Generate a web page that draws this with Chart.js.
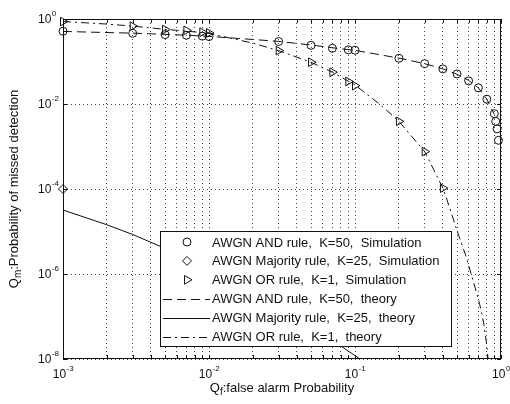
<!DOCTYPE html>
<html><head><meta charset="utf-8">
<script src="https://cdn.jsdelivr.net/npm/chart.js@4/dist/chart.umd.min.js"></script>
<style>html,body{margin:0;padding:0;background:#fff;}#wrap{width:510px;height:404px;position:relative;}</style>
</head><body><div id="wrap"><canvas id="c" width="510" height="404"></canvas></div>
<script>
// ---- data ----
const andSimX = [0.001,0.003,0.005,0.007,0.009,0.01,0.03,0.05,0.07,0.09,0.1,0.2,0.3,0.4,0.5,0.6,0.7,0.8,0.9,0.92,0.94,0.96];
const andSimY = [0.515,0.46,0.43,0.415,0.395,0.386,0.295,0.24,0.205,0.188,0.184,0.119,0.089,0.067,0.051,0.035,0.024,0.013,0.0059,0.0039,0.0026,0.0014];
const majSimX = [0.001];
const majSimY = [1e-4];
const orSimX = [0.001,0.003,0.005,0.007,0.009,0.01,0.03,0.05,0.07,0.09,0.1,0.2,0.3,0.4];
const orSimY = [0.87,0.68,0.565,0.54,0.49,0.47,0.18,0.096,0.056,0.034,0.027,0.0039,0.00076,0.000105];
const andThX = [0.001,0.002,0.003,0.005,0.007,0.01,0.02,0.03,0.05,0.07,0.1,0.2,0.3,0.4,0.5,0.6,0.7,0.8,0.9];
const andThY = [0.51,0.48,0.465,0.435,0.415,0.39,0.33,0.297,0.245,0.21,0.183,0.12,0.089,0.067,0.05,0.036,0.024,0.013,0.0057];
const majThX = [0.001,0.002,0.003,0.005,0.01,0.02,0.03,0.05,0.07,0.1,0.12];
const majThY = [3.2e-5,1.44e-5,8.5e-6,4.0e-6,1.3e-6,3.7e-7,1.7e-7,5.8e-8,2.75e-8,1.2e-8,7.8e-9];
const orThX = [0.001,0.002,0.003,0.005,0.007,0.01,0.02,0.03,0.05,0.07,0.1,0.15,0.2,0.3,0.4,0.443,0.495,0.572,0.649,0.713,0.759,0.796,0.815,0.83];
const orThY = [0.87,0.76,0.68,0.57,0.52,0.46,0.27,0.18,0.096,0.056,0.028,0.0095,0.0039,0.00076,0.000105,3.8e-5,1.15e-5,2.8e-6,6.4e-7,2.0e-7,7.4e-8,2.3e-8,1.05e-8,4e-9];

const xGridTicks = [0.001,0.002,0.003,0.004,0.005,0.006,0.007,0.008,0.009,0.01,0.02,0.03,0.04,0.05,0.06,0.07,0.08,0.09,0.1,0.2,0.3,0.4,0.5,0.6,0.7,0.8,0.9,1];
const xLabelValues = [0.001,0.01,0.1,1];
const xLabelExps = ['-3','-2','-1','0'];
const yLabelValues = [1,1e-2,1e-4,1e-6,1e-8];
const yLabelExps = ['0','-2','-4','-6','-8'];
const legendLabels = [
  'AWGN AND rule,  K=50,  Simulation',
  'AWGN Majority rule,  K=25,  Simulation',
  'AWGN OR rule,  K=1,  Simulation',
  'AWGN AND rule,  K=50,  theory',
  'AWGN Majority rule,  K=25,  theory',
  'AWGN OR rule,  K=1,  theory'
];
const xTitle = ['Q','f',':false alarm Probability'];
const yTitle = ['Q','m',':Probability of missed detection'];

const pts = (xs, ys) => xs.map((x, i) => ({x, y: ys[i]}));
const INK = '#111';
const FONT = '"Liberation Sans", Arial, sans-serif';

const markerDs = (label, xs, ys, style, r, rot) => ({
  label, data: pts(xs, ys), showLine: false, pointStyle: style, pointRadius: r, pointRotation: rot || 0,
  pointBorderColor: INK, pointBackgroundColor: 'rgba(0,0,0,0)', pointBorderWidth: 1, borderColor: INK, clip: false
});
const lineDs = (label, xs, ys, dash) => ({
  label, data: pts(xs, ys), showLine: true, borderColor: INK, borderWidth: 1, borderDash: dash,
  pointRadius: 0, tension: 0, fill: false
});

const datasets = [
  markerDs(legendLabels[0], andSimX, andSimY, 'circle', 4),
  markerDs(legendLabels[1], majSimX, majSimY, 'rectRot', 4.5),
  markerDs(legendLabels[2], orSimX, orSimY, 'triangle', 5, 90),
  lineDs(legendLabels[3], andThX, andThY, [9,5]),
  lineDs(legendLabels[4], majThX, majThY, []),
  lineDs(legendLabels[5], orThX, orThY, [8,4,2,4])
];

function drawPow(ctx, exp, x, y, align) {
  ctx.font = '12px ' + FONT;
  const wb = ctx.measureText('10').width;
  ctx.font = '8px ' + FONT;
  const we = ctx.measureText(exp).width;
  let x0 = align === 'center' ? x - (wb + we) / 2 : x;
  ctx.textAlign = 'left'; ctx.textBaseline = 'middle';
  ctx.font = '12px ' + FONT;
  ctx.fillText('10', x0, y);
  ctx.font = '8px ' + FONT;
  ctx.fillText(exp, x0 + wb + 0.5, y - 6);
}

function drawSubTitle(ctx, parts, cx, cy) {
  ctx.textBaseline = 'middle'; ctx.textAlign = 'left';
  ctx.font = '13px ' + FONT; const w1 = ctx.measureText(parts[0]).width;
  ctx.font = '10px ' + FONT; const w2 = ctx.measureText(parts[1]).width;
  ctx.font = '13px ' + FONT; const w3 = ctx.measureText(parts[2]).width;
  let x = cx - (w1 + w2 + w3) / 2;
  ctx.font = '13px ' + FONT; ctx.fillText(parts[0], x, cy); x += w1;
  ctx.font = '10px ' + FONT; ctx.fillText(parts[1], x, cy + 4); x += w2;
  ctx.font = '13px ' + FONT; ctx.fillText(parts[2], x, cy);
}

const decor = {
  id: 'decor',
  afterDraw(chart) {
    const ctx = chart.ctx, ca = chart.chartArea;
    const xs = chart.scales.x, ys = chart.scales.y;
    ctx.save();
    // frame
    ctx.strokeStyle = INK; ctx.lineWidth = 1; ctx.setLineDash([]);
    ctx.strokeRect(ca.left + 0.5, ca.top + 0.5, ca.right - ca.left - 1, ca.bottom - ca.top - 1);
    // inner tick marks
    ctx.beginPath();
    xGridTicks.forEach(v => {
      const px = Math.round(xs.getPixelForValue(v)) + 0.5;
      ctx.moveTo(px, ca.bottom); ctx.lineTo(px, ca.bottom - 4);
      ctx.moveTo(px, ca.top); ctx.lineTo(px, ca.top + 4);
    });
    yLabelValues.forEach(v => {
      const py = Math.round(ys.getPixelForValue(v)) + 0.5;
      ctx.moveTo(ca.left, py); ctx.lineTo(ca.left + 4, py);
      ctx.moveTo(ca.right, py); ctx.lineTo(ca.right - 4, py);
    });
    ctx.stroke();
    // tick labels
    ctx.fillStyle = '#111';
    xLabelValues.forEach((v, i) => drawPow(ctx, xLabelExps[i], xs.getPixelForValue(v), ca.bottom + 16, 'center'));
    yLabelValues.forEach((v, i) => drawPow(ctx, yLabelExps[i], 38, ys.getPixelForValue(v) + 1, 'left'));
    // axis titles
    drawSubTitle(ctx, xTitle, (ca.left + ca.right) / 2, ca.bottom + 29);
    ctx.save();
    ctx.translate(14, (ca.top + ca.bottom) / 2);
    ctx.rotate(-Math.PI / 2);
    drawSubTitle(ctx, yTitle, 0, 0);
    ctx.restore();
    // legend
    const bx = 160, by = 231, bw = 292, bh = 116;
    ctx.fillStyle = '#fff';
    ctx.fillRect(bx, by, bw, bh);
    ctx.strokeStyle = INK; ctx.lineWidth = 1;
    ctx.strokeRect(bx + 0.5, by + 0.5, bw - 1, bh - 1);
    const rowH = 18.9, y0 = by + 11;
    chart.data.datasets.forEach((ds, i) => {
      const cy = y0 + i * rowH;
      if (ds.showLine) {
        ctx.save();
        ctx.strokeStyle = INK; ctx.lineWidth = 1; ctx.setLineDash(ds.borderDash);
        ctx.beginPath(); ctx.moveTo(163, Math.round(cy) + 0.5); ctx.lineTo(210, Math.round(cy) + 0.5); ctx.stroke();
        ctx.restore();
      } else {
        ctx.save();
        ctx.strokeStyle = INK; ctx.lineWidth = 1; ctx.fillStyle = 'rgba(0,0,0,0)';
        Chart.helpers.drawPoint(ctx, {pointStyle: ds.pointStyle, radius: ds.pointRadius, rotation: ds.pointRotation || 0, borderWidth: 1}, 187, cy);
        ctx.restore();
      }
      ctx.fillStyle = '#111';
      ctx.font = '13px ' + FONT; ctx.textAlign = 'left'; ctx.textBaseline = 'middle';
      ctx.fillText(ds.label, 212, cy + 1);
    });
    ctx.restore();
  }
};

new Chart(document.getElementById('c'), {
  type: 'scatter',
  data: { datasets },
  options: {
    responsive: false, animation: false, devicePixelRatio: 1,
    layout: { padding: { left: 63, top: 19, right: 9, bottom: 45 } },
    plugins: { legend: { display: false }, tooltip: { enabled: false } },
    scales: {
      x: {
        type: 'logarithmic', position: 'bottom', min: 0.001, max: 1,
        afterBuildTicks: s => { s.ticks = xGridTicks.map(v => ({ value: v })); },
        ticks: { display: false },
        grid: { color: '#444', lineWidth: 1, drawTicks: false },
        border: { display: false, dash: [1, 3] }
      },
      y: {
        type: 'logarithmic', position: 'left', min: 1e-8, max: 1,
        afterBuildTicks: s => { s.ticks = yLabelValues.map(v => ({ value: v })); },
        ticks: { display: false },
        grid: { color: '#444', lineWidth: 1, drawTicks: false },
        border: { display: false, dash: [1, 3] }
      }
    }
  },
  plugins: [decor]
});
</script>
</body></html>
